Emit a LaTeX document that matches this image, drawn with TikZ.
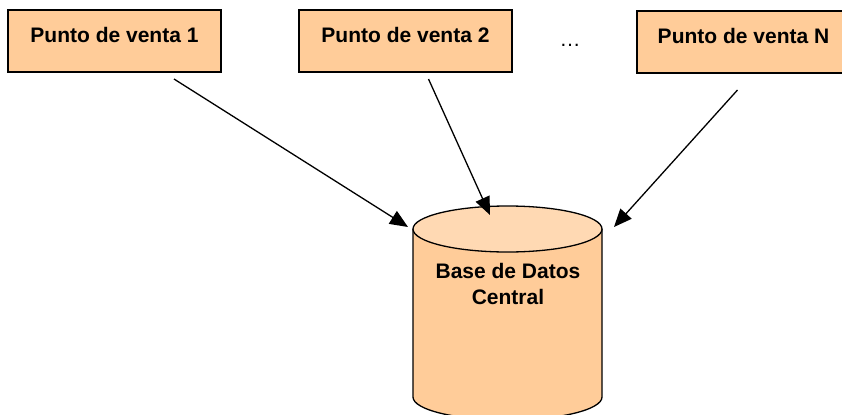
\documentclass[tikz,border=0pt]{standalone}
\usepackage{fontspec}
\setmainfont{Liberation Sans}
\usetikzlibrary{arrows.meta,positioning,calc}
\definecolor{venta}{RGB}{255,204,153}
\definecolor{dbbody}{RGB}{255,204,153}
\definecolor{dbtop}{RGB}{255,217,179}

\begin{document}
\begin{tikzpicture}[
    x=0.5pt, y=0.5pt,
    puntobox/.style={rectangle, draw, line width=1pt, fill=venta, minimum width=106.5pt, minimum height=31pt, inner sep=0pt, text height=7.5pt, text depth=6.5pt, font=\fontsize{10.5}{13}\selectfont\bfseries},
    dbline/.style={draw, line width=0.65pt},
    arrow/.style={-{Triangle[length=9pt,width=7.5pt]}, line width=0.65pt},
]
\useasboundingbox (0,0) rectangle (842,414);

% === PUNTOS DE VENTA ===
\node[puntobox] (pv1) at (114.5,373) {Punto de venta 1};
\node[puntobox, right=38pt of pv1] (pv2) {Punto de venta 2};
\node[puntobox, right=61.5pt of pv2, yshift=-0.5pt] (pvN) {Punto de venta N};
\node[font=\fontsize{10.5}{13}\selectfont] (dots) at (570,369) {\dots};

% === BASE DE DATOS ===
\coordinate (dbc) at (507.5,185);
\fill[dbbody] ($(dbc)+(-94.5,0)$) -- ++(0,-168) arc[start angle=180, end angle=360, x radius=47.25pt, y radius=11.5pt] -- ++(0,168) -- cycle;
\draw[dbline] ($(dbc)+(-94.5,0)$) -- ++(0,-168) arc[start angle=180, end angle=360, x radius=47.25pt, y radius=11.5pt] -- ++(0,168);
\draw[dbline, fill=dbtop] (dbc) ellipse[x radius=47.25pt, y radius=11.5pt];
\node[align=center, font=\fontsize{10.5}{13}\selectfont\bfseries] (db) at (508,130) {Base de Datos\\Central};

\coordinate (dbL) at ($(dbc)+(-99.5,2)$);
\coordinate (dbT) at ($(dbc)+(-17.5,14)$);
\coordinate (dbR) at ($(dbc)+(106.5,2)$);

% === ARROWS ===
\draw[arrow] ([xshift=-24pt, yshift=-3pt]pv1.south east) -- (dbL);
\draw[arrow] ([xshift=11.5pt, yshift=-3pt]pv2.south) -- (dbT);
\draw[arrow] ([xshift=-3pt, yshift=-8pt]pvN.south) -- (dbR);

\end{tikzpicture}
\end{document}
